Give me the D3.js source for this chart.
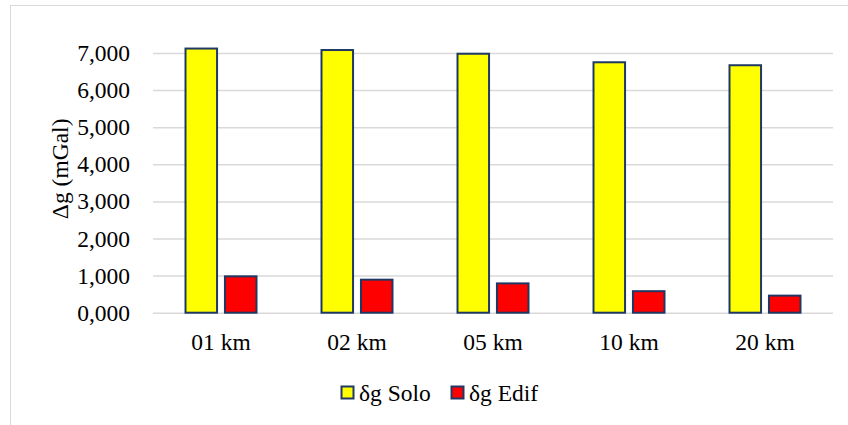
<!DOCTYPE html>
<html>
<head>
<meta charset="utf-8">
<script src="https://cdn.jsdelivr.net/npm/d3@7"></script>
<style>
  html, body { margin: 0; padding: 0; background: #ffffff; }
  svg { display: block; }
  svg text { font-family: 'Liberation Serif', 'Times New Roman', serif; fill: #000; }
</style>
</head>
<body>
<svg id="chart" width="848" height="425"></svg>
<script>
// Distances from the station
const categories = ["01 km", "02 km", "05 km", "10 km", "20 km"];
// Gravity effect (mGal)
const soloValues = [7.12, 7.08, 6.98, 6.75, 6.67];
const edifValues = [0.98, 0.89, 0.79, 0.58, 0.46];
const seriesNames = ["δg Solo", "δg Edif"];
const seriesColors = ["#ffff00", "#ff0000"];
const yTicks = [0, 1, 2, 3, 4, 5, 6, 7];

const series = [soloValues, edifValues];

const svg = d3.select("#chart");
const W = 848, H = 425;
const plot = { left: 153, right: 833, top: 53, bottom: 312.7 };
const FONT = "'Liberation Serif', 'Times New Roman', serif";
const FS = 23.5;

// frame of the chart area
svg.append("rect")
  .attr("x", 10.5).attr("y", 5.5)
  .attr("width", W).attr("height", H)
  .attr("fill", "#fff")
  .attr("stroke", "#d9d9d9").attr("stroke-width", 1);

const x0 = d3.scaleBand().domain(categories)
  .range([plot.left, plot.right]).paddingInner(0.478).paddingOuter(0.239);
const x1 = d3.scaleBand().domain(d3.range(series.length))
  .range([0, x0.bandwidth()]).paddingInner(0.2).paddingOuter(0);
const y = d3.scaleLinear().domain([0, 7]).range([plot.bottom, plot.top]);

const ptBR = d3.formatLocale({ decimal: ",", thousands: ".", grouping: [3], currency: ["", ""] });
const fmt = ptBR.format(".3f");

// gridlines + tick labels
const yAxis = d3.axisLeft(y).tickValues(yTicks).tickFormat(fmt)
  .tickSize(-(plot.right - plot.left)).tickPadding(23);
const gy = svg.append("g").attr("transform", `translate(${plot.left},0)`).call(yAxis)
  .attr("font-family", FONT).attr("font-size", FS);
gy.select(".domain").remove();
gy.selectAll(".tick line").attr("stroke", "#d9d9d9").attr("stroke-width", 1.5);
gy.selectAll(".tick text").attr("fill", "#000");

// y axis title
svg.append("text")
  .attr("transform", `translate(68,${(plot.top + plot.bottom) / 2 - 14}) rotate(-90)`)
  .attr("text-anchor", "middle")
  .attr("font-family", FONT)
  .attr("font-size", FS)
  .text("Δg (mGal)");

// bars
const groups = svg.append("g").selectAll("g")
  .data(categories).join("g")
  .attr("transform", d => `translate(${x0(d)},0)`);

groups.selectAll("rect")
  .data((d, i) => series.map((s, k) => ({ k, v: s[i] })))
  .join("rect")
  .attr("x", d => x1(d.k))
  .attr("y", d => y(d.v))
  .attr("width", x1.bandwidth())
  .attr("height", d => y(0) - y(d.v))
  .attr("fill", d => seriesColors[d.k])
  .attr("stroke", "#1f3864")
  .attr("stroke-width", 2);

// category labels
const xAxis = d3.axisBottom(x0).tickSize(0).tickPadding(21);
const gx = svg.append("g").attr("transform", `translate(0,${plot.bottom})`).call(xAxis)
  .attr("font-family", FONT).attr("font-size", FS);
gx.select(".domain").remove();
gx.selectAll(".tick text").attr("fill", "#000");

// legend
const legend = svg.append("g").attr("transform", "translate(341,386)")
  .attr("font-family", FONT).attr("font-size", FS);
const legendX = [0, 110];
seriesNames.forEach((name, k) => {
  const g = legend.append("g").attr("transform", `translate(${legendX[k]},0)`);
  g.append("rect").attr("x", 0.5).attr("y", 0.5).attr("width", 12).attr("height", 12)
    .attr("fill", seriesColors[k]).attr("stroke", "#1f3864").attr("stroke-width", 2);
  g.append("text").attr("x", 18).attr("y", 14.5).text(name);
});
</script>
</body>
</html>
